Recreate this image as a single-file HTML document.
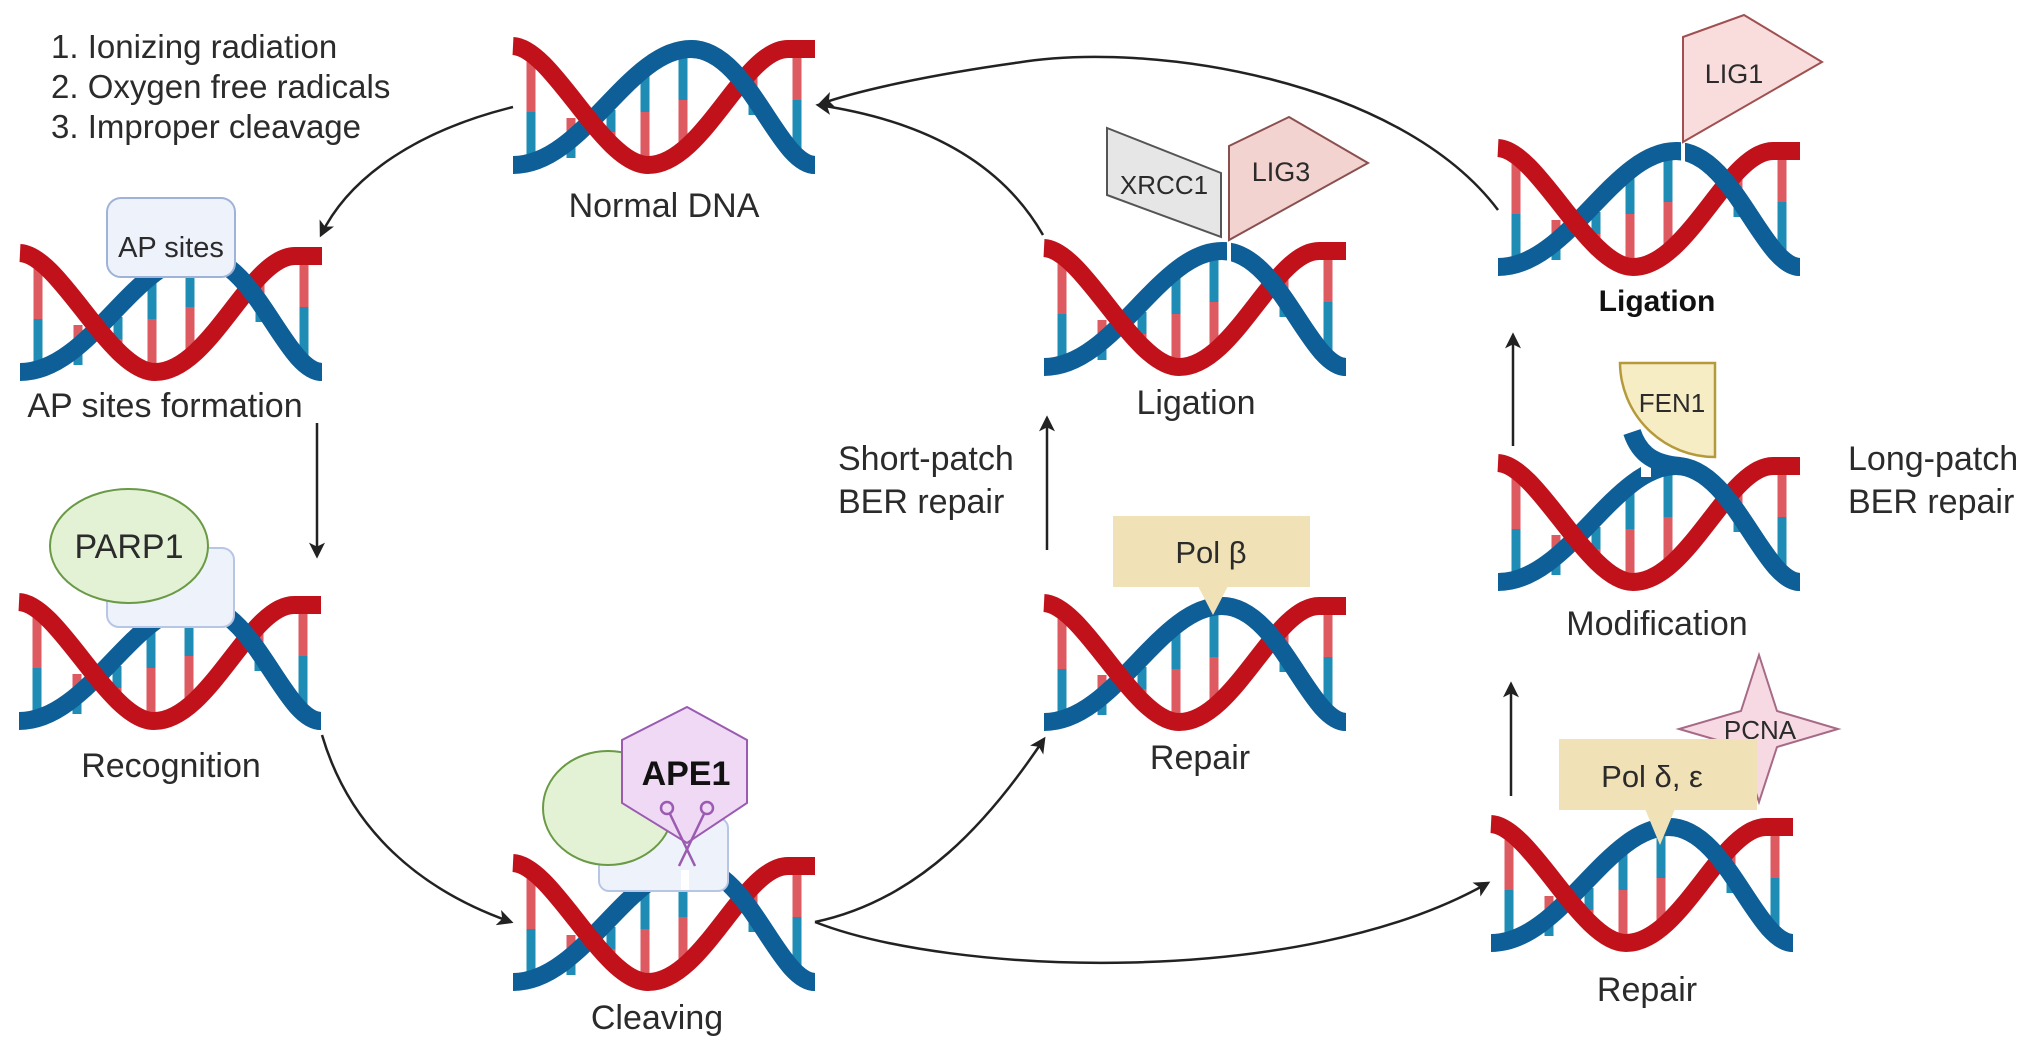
<!DOCTYPE html>
<html><head><meta charset="utf-8"><style>
html,body{margin:0;padding:0;background:#fff;}
svg{display:block;}
text{font-family:"Liberation Sans",Arial,sans-serif;fill:#2b2b2b;}
</style></head><body>
<svg width="2031" height="1047" viewBox="0 0 2031 1047" xmlns="http://www.w3.org/2000/svg">
<defs>
<marker id="arr" viewBox="0 0 12 12" refX="10" refY="6" markerWidth="16" markerHeight="16" markerUnits="userSpaceOnUse" orient="auto">
<path d="M0,0 L12,6 L0,12 L3,6 Z" fill="#222"/>
</marker>
<g id="dna">
<g stroke-width="9">
<line x1="18" y1="20" x2="18" y2="72" stroke="#dd5a60"/><line x1="18" y1="72" x2="18" y2="124" stroke="#1f8cb5"/>
<line x1="58" y1="78" x2="58" y2="98" stroke="#dd5a60"/><line x1="58" y1="98" x2="58" y2="118" stroke="#1f8cb5"/>
<line x1="98" y1="70" x2="98" y2="92" stroke="#1f8cb5"/><line x1="98" y1="92" x2="98" y2="112" stroke="#dd5a60"/>
<line x1="132" y1="24" x2="132" y2="72" stroke="#1f8cb5"/><line x1="132" y1="72" x2="132" y2="124" stroke="#dd5a60"/>
<line x1="170" y1="10" x2="170" y2="60" stroke="#1f8cb5"/><line x1="170" y1="60" x2="170" y2="110" stroke="#dd5a60"/>
<line x1="240" y1="30" x2="240" y2="50" stroke="#dd5a60"/><line x1="240" y1="50" x2="240" y2="75" stroke="#1f8cb5"/>
<line x1="284" y1="10" x2="284" y2="60" stroke="#dd5a60"/><line x1="284" y1="60" x2="284" y2="112" stroke="#1f8cb5"/>
</g>
<path d="M0,125 C70,125 115,9 178,9 C235,9 265,125 302,125" fill="none" stroke="#0e5f98" stroke-width="18"/>
<path d="M0,6 C40,8 90,125 135,125 C190,125 230,9 275,9 L302,9" fill="none" stroke="#c1121c" stroke-width="18"/>
<path d="M178,9 C235,9 265,125 302,125" fill="none" stroke="#0e5f98" stroke-width="18"/>
</g>
</defs>

<text x="51" y="58" font-size="33">1. Ionizing radiation</text>
<text x="51" y="98" font-size="33">2. Oxygen free radicals</text>
<text x="51" y="138" font-size="33">3. Improper cleavage</text>

<use href="#dna" x="20" y="247"/>
<use href="#dna" x="19" y="596"/>
<use href="#dna" x="513" y="40"/>
<use href="#dna" x="513" y="857"/>
<use href="#dna" x="1044" y="242"/>
<use href="#dna" x="1044" y="597"/>
<use href="#dna" x="1498" y="142"/>
<use href="#dna" x="1498" y="457"/>
<use href="#dna" x="1491" y="818"/>

<rect x="1227" y="238" width="4" height="28" fill="#fff"/>
<rect x="1681" y="138" width="4" height="28" fill="#fff"/>

<rect x="107" y="198" width="128" height="79" rx="14" fill="#eef2fb" stroke="#9fb3d9" stroke-width="2"/>
<text x="171" y="257" font-size="29" text-anchor="middle">AP sites</text>

<rect x="107" y="548" width="127" height="79" rx="12" fill="#eef2fb" stroke="#b8c6e6" stroke-width="2"/>
<ellipse cx="129" cy="546" rx="79" ry="57" fill="#e3f2d5" stroke="#6a9a45" stroke-width="2"/>
<text x="129" y="558" font-size="34" text-anchor="middle">PARP1</text>

<rect x="599" y="818" width="129" height="73" rx="10" fill="#eef2fb" stroke="#b8c6e6" stroke-width="2"/>
<ellipse cx="608" cy="808" rx="65" ry="57" fill="#e3f2d5" stroke="#6a9a45" stroke-width="2"/>
<polygon points="687,707 747,740 747,803 687,843 622,803 622,740" fill="#efd9f5" stroke="#9a5bb0" stroke-width="2"/>
<text x="686" y="785" font-size="34" font-weight="bold" text-anchor="middle" style="fill:#111">APE1</text>
<g stroke="#9a5bb0" stroke-width="2.5" fill="none">
<circle cx="667" cy="808" r="6"/><circle cx="707" cy="808" r="6"/>
<line x1="670" y1="814" x2="695" y2="866"/><line x1="704" y1="814" x2="679" y2="866"/>
</g>
<rect x="681" y="870" width="8" height="20" fill="#fff"/>

<rect x="1113" y="516" width="197" height="71" fill="#f0e2b6"/>
<polygon points="1198,586 1228,586 1213,615" fill="#f0e2b6"/>
<text x="1211" y="563" font-size="31" text-anchor="middle">Pol β</text>

<polygon points="1107,128 1221,173 1221,237 1107,195" fill="#e6e6e6" stroke="#555" stroke-width="2"/>
<text x="1164" y="194" font-size="26" text-anchor="middle">XRCC1</text>
<polygon points="1229,146 1289,117 1368,163 1229,240" fill="#f2d3cf" stroke="#8a5050" stroke-width="2"/>
<text x="1281" y="181" font-size="27" text-anchor="middle">LIG3</text>

<polygon points="1683,37 1744,15 1822,62 1683,142" fill="#f9dcdc" stroke="#a05050" stroke-width="2"/>
<text x="1734" y="83" font-size="27" text-anchor="middle">LIG1</text>

<path d="M1620,363 L1715,363 L1715,457 A95,95 0 0 1 1620,363 Z" fill="#f7edc4" stroke="#b59a3c" stroke-width="2.5"/>
<text x="1672" y="412" font-size="26" text-anchor="middle">FEN1</text>
<rect x="1641" y="455" width="10" height="22" fill="#fff"/>
<path d="M1632,432 C1640,456 1656,464 1680,466" fill="none" stroke="#0e5f98" stroke-width="18"/>

<polygon points="1759,655 1777,711 1838,729 1777,747 1759,802 1741,747 1679,729 1741,711" fill="#f6d9e3" stroke="#a76a86" stroke-width="2"/>
<text x="1760" y="739" font-size="26" text-anchor="middle">PCNA</text>
<rect x="1559" y="739" width="198" height="71" fill="#f0e2b6"/>
<polygon points="1645,809 1675,809 1660,845" fill="#f0e2b6"/>
<text x="1652" y="787" font-size="31" text-anchor="middle">Pol δ, ε</text>

<g font-size="34" text-anchor="middle">
<text x="664" y="217">Normal DNA</text>
<text x="165" y="417">AP sites formation</text>
<text x="171" y="777">Recognition</text>
<text x="657" y="1029">Cleaving</text>
<text x="1196" y="414">Ligation</text>
<text x="1200" y="769">Repair</text>
<text x="1657" y="311" font-weight="bold" font-size="30" style="fill:#111">Ligation</text>
<text x="1657" y="635">Modification</text>
<text x="1647" y="1001">Repair</text>
</g>
<g font-size="34">
<text x="838" y="470">Short-patch</text>
<text x="838" y="513">BER repair</text>
<text x="1848" y="470">Long-patch</text>
<text x="1848" y="513">BER repair</text>
</g>

<g fill="none" stroke="#222" stroke-width="2.5" marker-end="url(#arr)">
<path d="M513,107 C420,130 350,175 321,235"/>
<path d="M317,423 L317,556"/>
<path d="M322,735 C350,830 420,890 511,922"/>
<path d="M815,922 C920,900 990,820 1044,739"/>
<path d="M815,922 C950,975 1300,990 1488,883"/>
<path d="M1047,550 L1047,418"/>
<path d="M1043,235 C1000,160 920,120 818,105"/>
<path d="M1498,210 C1400,80 1150,40 1015,63 C930,75 860,90 820,104"/>
<path d="M1511,796 L1511,684"/>
<path d="M1513,446 L1513,335"/>
</g>
</svg>
</body></html>
